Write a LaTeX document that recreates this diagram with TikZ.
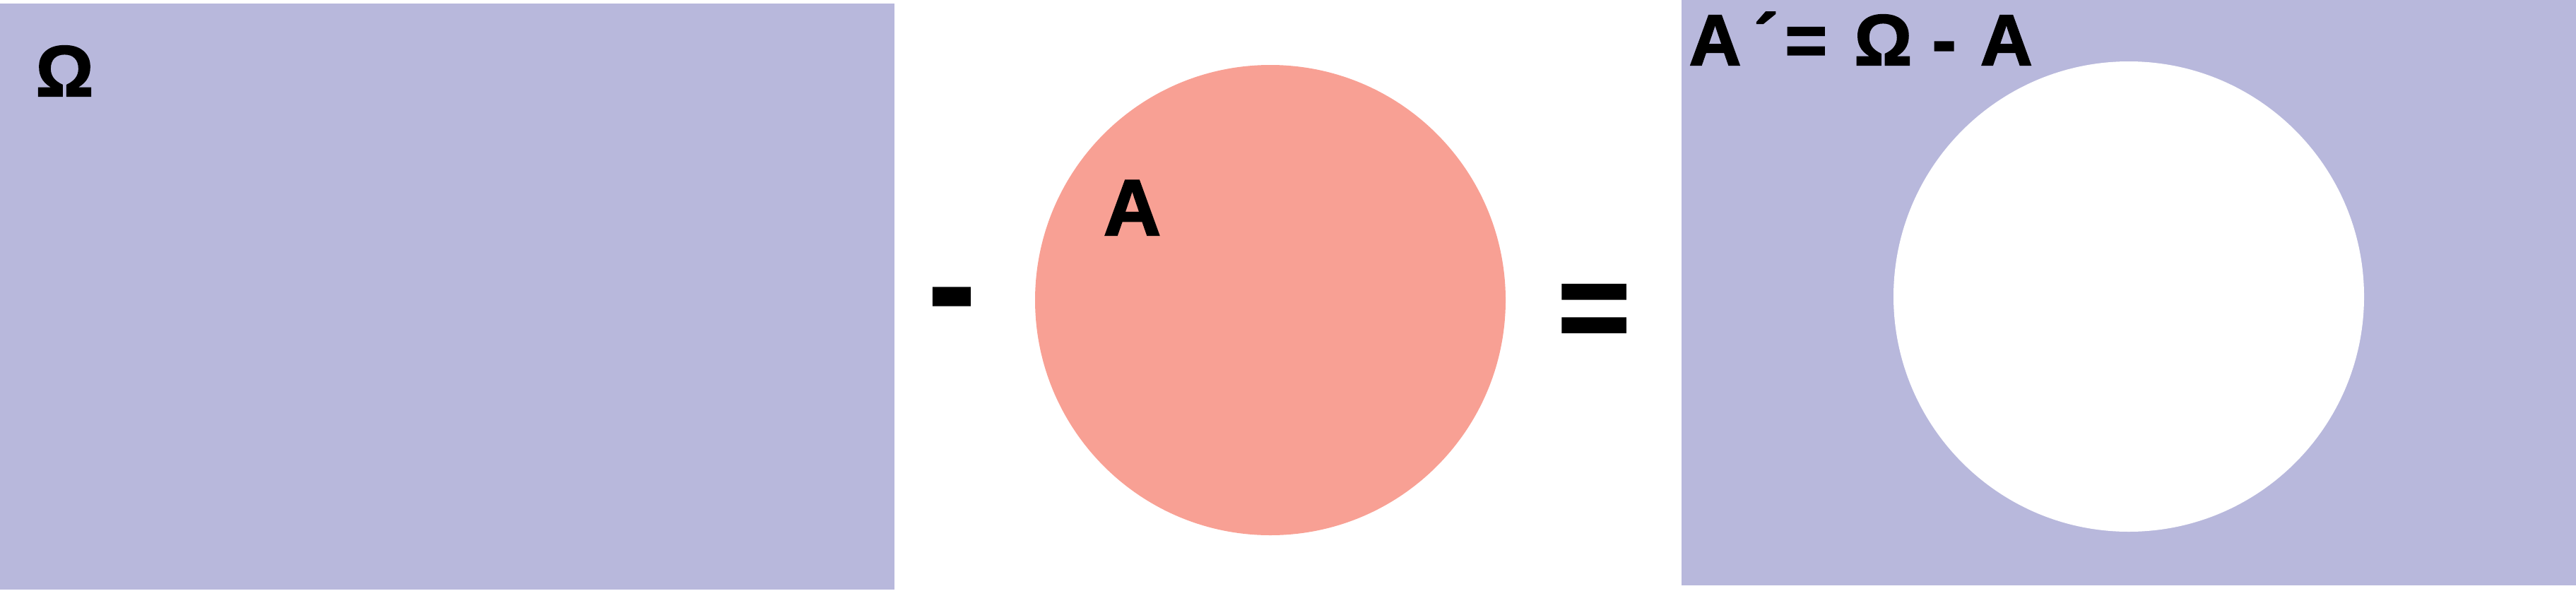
\documentclass[tikz,border=0pt]{standalone}
\usepackage{fontspec}
\setmainfont{Liberation Sans}
\newfontfamily\heavy{Liberation Sans Bold}[FakeBold=2]
\usepackage{tikz}
\usetikzlibrary{positioning,calc}
\definecolor{setc}{HTML}{B8B8DC}
\definecolor{subc}{HTML}{F8A094}

\begin{document}
\begin{tikzpicture}[
      lbl/.style={font=\heavy\fontsize{29}{34}\selectfont,inner sep=0pt,anchor=base},
      sym/.style={font=\heavy\fontsize{56}{62}\selectfont,inner sep=0pt,anchor=base},
    ]
    \useasboundingbox (0,0) rectangle (36.46,8.36);
    % universe, set A, complement
    \fill[setc] (0,0.01) rectangle (12.66,8.31);
    \fill[subc] (17.98,4.11) circle (3.33);
    \fill[setc] (23.80,0.07) rectangle (36.46,8.36);
    \fill[white] (30.13,4.16) circle (3.33);
    \node[lbl] (omega) at (0.915,7.00) {Ω};
    \node[lbl,font=\heavy\fontsize{32}{38}\selectfont] (seta) at (16.025,5.03) {A};
    \node[lbl,anchor=base west] (rule) at (23.90,7.44)
      {A\kern.18em´\kern-.18em{} = \kern.10em Ω - \kern.06em A};
    \node[sym] (minus) at (13.47,3.65) {-};
    \node[sym,font=\heavy\fontsize{50}{56}\selectfont] (equals) at (22.56,3.41) {=};
  \end{tikzpicture}
\end{document}
